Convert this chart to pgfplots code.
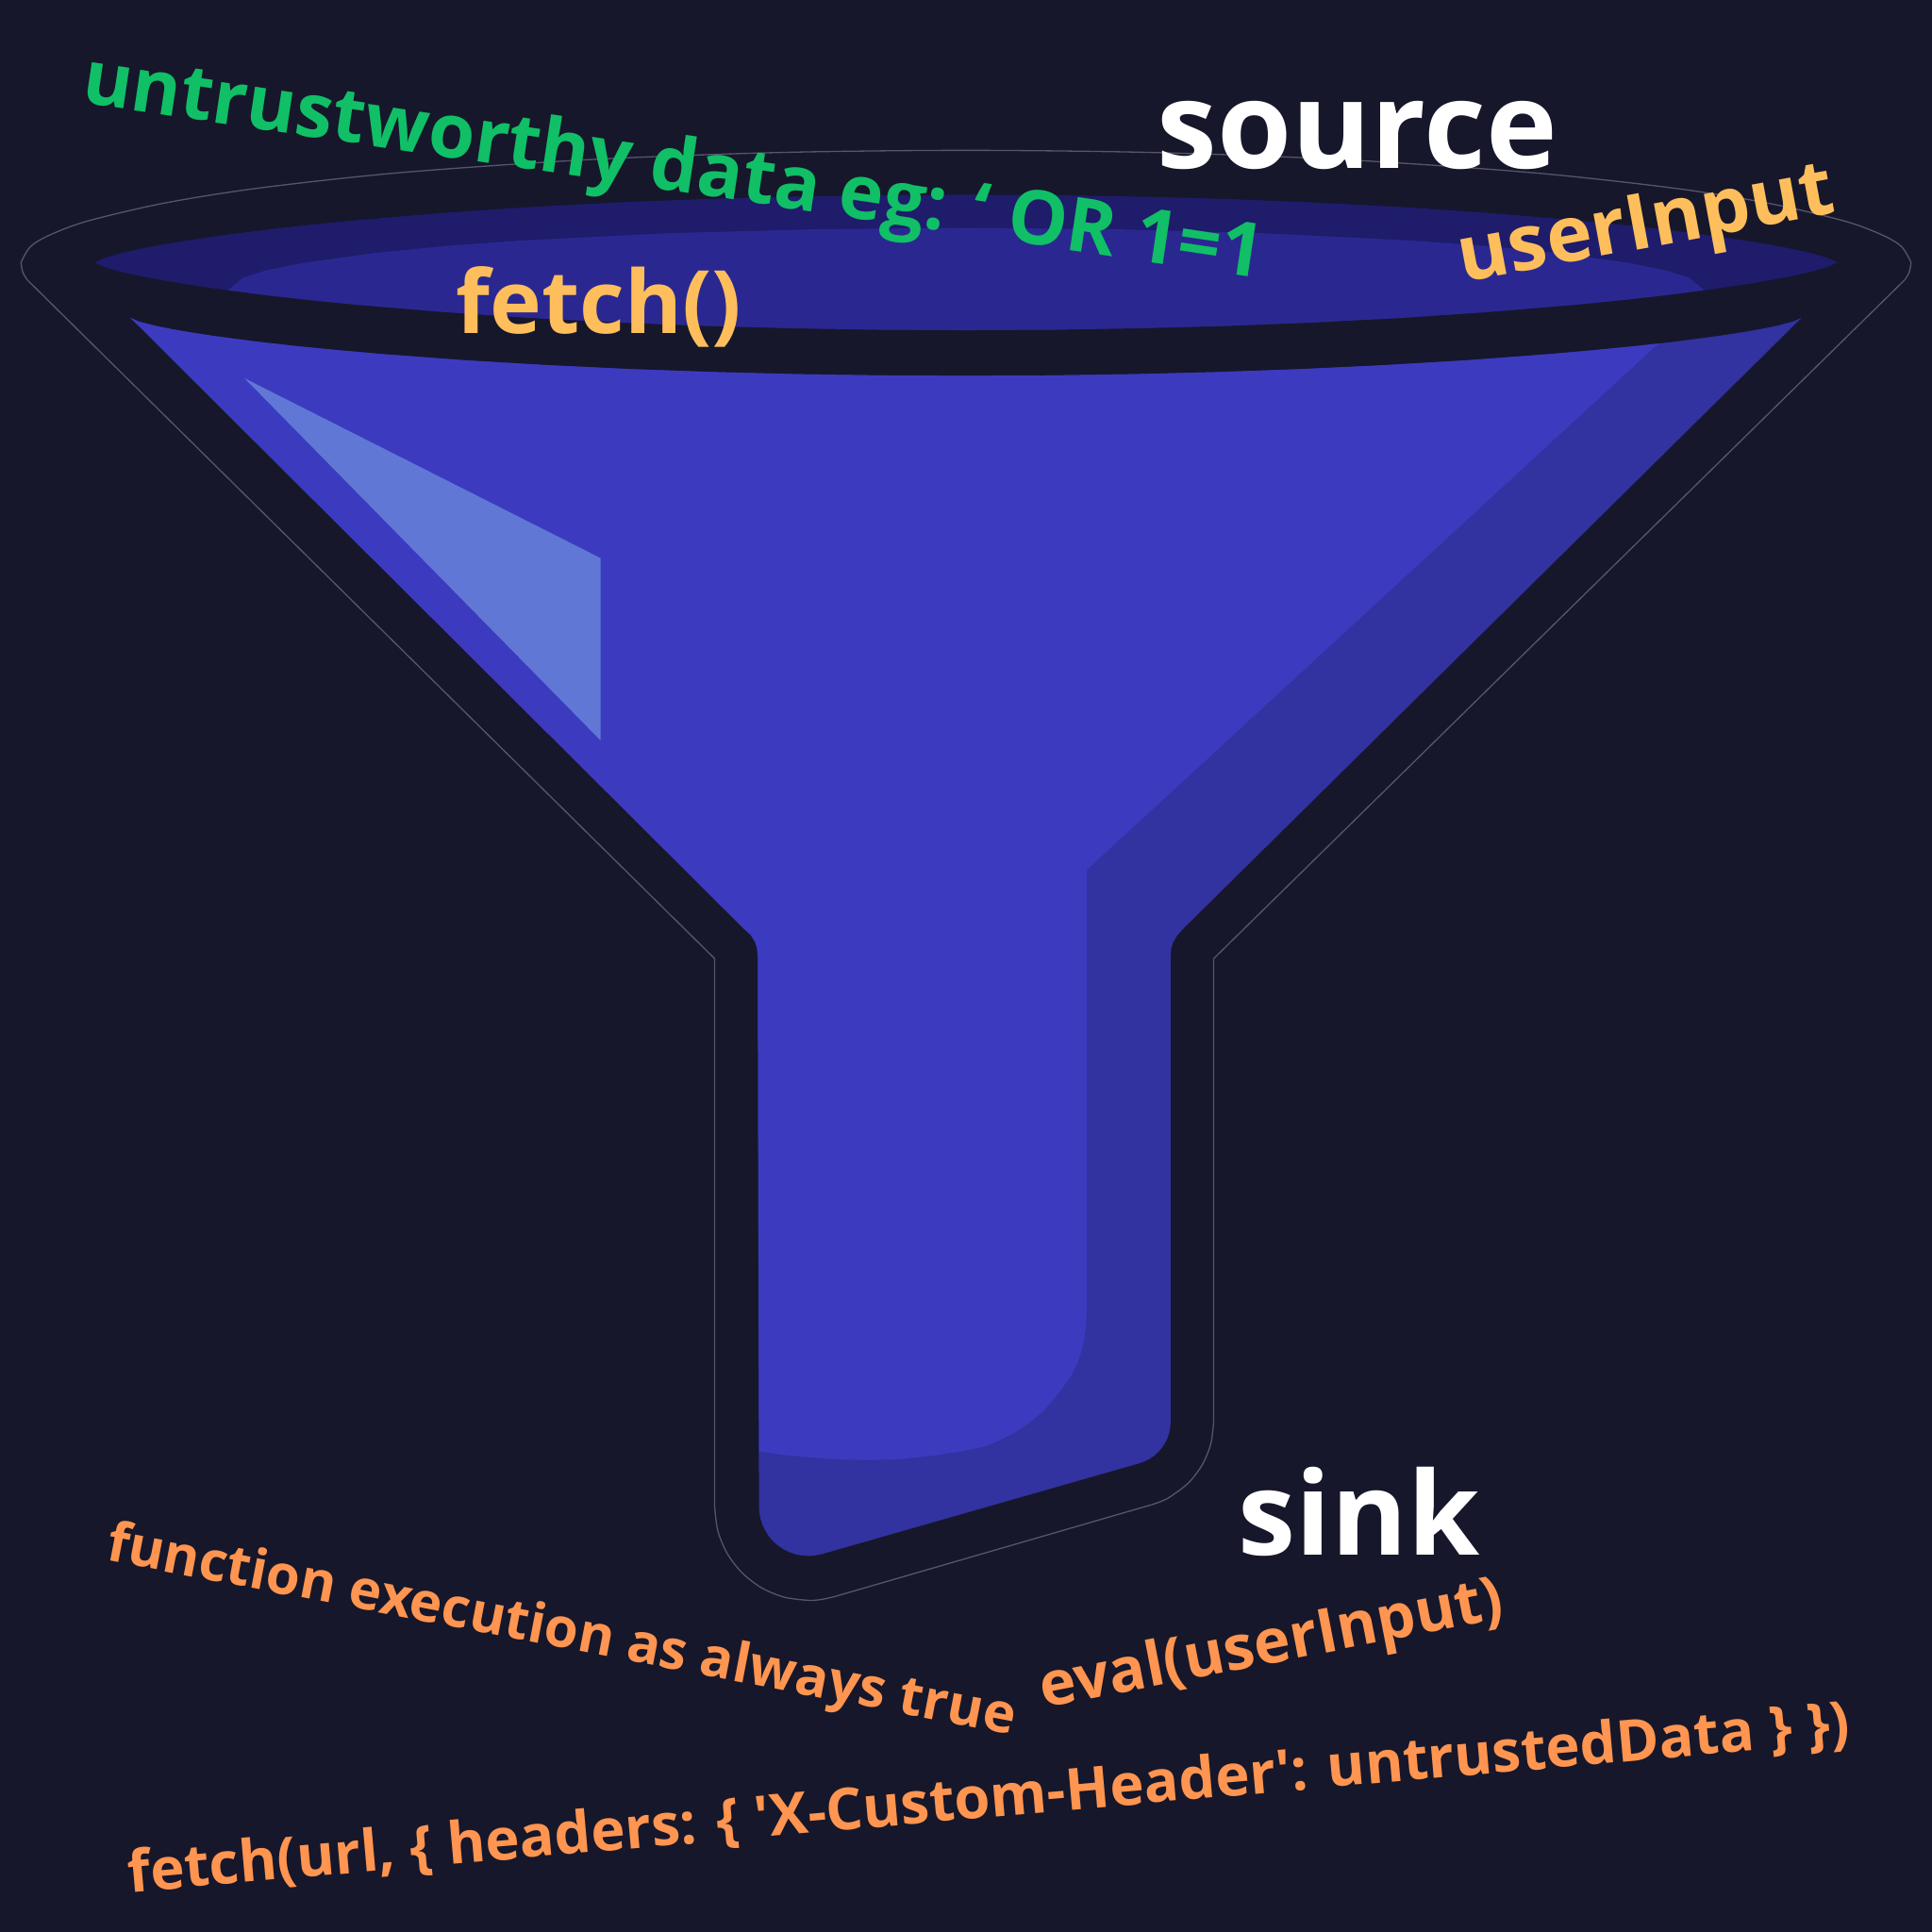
\documentclass[border=0pt]{standalone}
\usepackage{pgfplots}
\pgfplotsset{compat=1.18}
\usepackage{fontspec}
\setmainfont{Open Sans}
\definecolor{bg}{HTML}{16172B}
\definecolor{navy}{HTML}{1E1C6B}
\definecolor{inner}{HTML}{2A2890}
\definecolor{body}{HTML}{3C3BBF}
\definecolor{shade}{HTML}{3232A0}
\definecolor{hilite}{HTML}{6077D6}
\definecolor{edge}{HTML}{56566A}
\definecolor{tgreen}{HTML}{10BF66}
\definecolor{tyellow}{HTML}{FFBE5C}
\definecolor{torange}{HTML}{FF9550}
\begin{document}
\begin{tikzpicture}
\begin{axis}[width=1568pt,height=1568pt,scale only axis,
  xmin=0,xmax=1568,ymin=0,ymax=1568,y dir=reverse,hide axis]
% background
\addplot[draw=none,fill=bg] coordinates {(0,0)(1568,0)(1568,1568)(0,1568)} -- cycle;
% outer thin outline: top ellipse arc
\addplot[edge,line width=1pt,smooth] coordinates {
(17,213)(24.7,200.2)(40,190.9)(70.7,179.5)(132,165.1)(208.8,152.8)(323.8,140.2)(477.2,129.6)(630.6,123.8)(784,122)
(937.4,123.8)(1090.8,129.6)(1244.2,140.2)(1359.3,152.8)(1436,165.1)(1497.3,179.5)(1528,190.9)(1543.3,200.2)(1551,213)};
% outer thin outline: left side
\addplot[edge,line width=1pt,smooth] coordinates {(17,213)(18.5,221)(22,227)};
\addplot[edge,line width=1pt] coordinates {(22,227)(580,778)(580,1222.8)};
% outer thin outline: rounded bottom
\addplot[edge,line width=1pt,smooth] coordinates {
(580,1222.8)(582.6,1242.5)(590.2,1260.8)(602.3,1276.5)(618,1288.6)(636.3,1296.2)(656,1298.8)(666.6,1298.1)(676.9,1295.9)};
\addplot[edge,line width=1pt] coordinates {(676.9,1295.9)(934.3,1221.3)};
\addplot[edge,line width=1pt,smooth] coordinates {
(934.3,1221.3)(942.4,1218.5)(950,1214.6)(964.5,1203.5)(975.6,1189)(982.6,1172.1)(985,1154)};
% outer thin outline: right side
\addplot[edge,line width=1pt] coordinates {(985,1154)(985,778)(1546,227)};
\addplot[edge,line width=1pt,smooth] coordinates {(1546,227)(1549.5,221)(1551,213)};
% navy rim lens
\addplot[draw=none,fill=navy] coordinates {
(77,213)(84.1,209.5)(98.2,205.4)(112.4,202.2)(126.5,199.5)(147.7,195.8)(183.1,190.6)(218.4,186.1)(253.8,182.2)(289.1,178.7)
(359.8,172.8)(430.5,168.0)(501.2,164.3)(571.9,161.5)(642.6,159.6)(713.3,158.4)(784,158)
(854.7,158.4)(925.4,159.6)(996.1,161.5)(1066.8,164.3)(1137.5,168.0)(1208.2,172.8)(1278.9,178.7)(1314.3,182.2)(1349.6,186.1)
(1385.0,190.6)(1420.3,195.8)(1441.5,199.5)(1455.7,202.2)(1469.8,205.4)(1483.9,209.5)(1491,213)
(1483.9,216.5)(1469.8,220.6)(1455.7,223.8)(1441.5,226.5)(1420.3,230.2)(1385.0,235.4)(1349.6,239.9)(1314.3,243.8)(1278.9,247.3)
(1208.2,253.2)(1137.5,258.0)(1066.8,261.7)(996.1,264.5)(925.4,266.4)(854.7,267.6)(784,268)
(713.3,267.6)(642.6,266.4)(571.9,264.5)(501.2,261.7)(430.5,258.0)(359.8,253.2)(289.1,247.3)(253.8,243.8)(218.4,239.9)
(183.1,235.4)(147.7,230.2)(126.5,226.5)(112.4,223.8)(98.2,220.6)(84.1,216.5)} -- cycle;
% inner lighter ellipse
\addplot[draw=none,fill=inner] coordinates {
(185,235.5)(197.0,225.5)(214.9,219.7)(244.9,213.5)(304.8,205.2)(364.7,199.4)(424.6,195.1)(544.4,189.2)(664.2,186.0)(784,185)
(903.8,186.0)(1023.6,189.2)(1143.4,195.1)(1203.3,199.4)(1263.2,205.2)(1323.1,213.5)(1353.1,219.7)(1371.0,225.5)(1383,235.5)
(1349.6,239.9)(1314.3,243.8)(1278.9,247.3)(1208.2,253.2)(1137.5,258.0)(1066.8,261.7)(996.1,264.5)(925.4,266.4)(854.7,267.6)(784,268)
(713.3,267.6)(642.6,266.4)(571.9,264.5)(501.2,261.7)(430.5,258.0)(359.8,253.2)(289.1,247.3)(253.8,243.8)(218.4,239.9)} -- cycle;
% funnel body (shade colour)
\addplot[draw=none,fill=shade] coordinates {
(106,258)(112.8,261.0)(126.3,264.5)(139.9,267.2)(153.5,269.6)(173.8,272.7)(207.7,277.2)(241.6,281.0)(275.5,284.3)(309.4,287.3)
(377.2,292.4)(445,296.4)(512.8,299.6)(580.6,302.0)(648.4,303.7)(716.2,304.7)(784,305)
(851.8,304.7)(919.6,303.7)(987.4,302.0)(1055.2,299.6)(1123,296.4)(1190.8,292.4)(1258.6,287.3)(1292.5,284.3)(1326.4,281.0)
(1360.3,277.2)(1394.2,272.7)(1414.5,269.6)(1428.1,267.2)(1441.7,264.5)(1455.2,261.0)(1462,258)
(961,753)(955.5,759)(952,765)(950.5,770)(950,777)
(950,1154)(949.7,1158.6)(948.8,1163.1)(947.4,1167.4)(945.3,1171.5)(942.8,1175.3)(939.7,1178.7)(936.3,1181.8)(932.5,1184.3)(928.6,1186.2)(924.6,1187.6)
(667,1261.3)(661.6,1262.4)(656,1262.8)(650.7,1262.4)(645.6,1261.4)(640.6,1259.7)(636,1257.4)(631.6,1254.5)(627.7,1251.1)(624.3,1247.2)(621.4,1242.8)(619.1,1238.1)(617.4,1233.2)(616.3,1228.0)(616,1222.8)
(615,777)(614.5,770)(613,765)(609.5,759)(603,753)} -- cycle;
% funnel body (main bright colour)
\addplot[draw=none,fill=body] coordinates {
(106,258)(112.8,261.0)(126.3,264.5)(139.9,267.2)(153.5,269.6)(173.8,272.7)(207.7,277.2)(241.6,281.0)(275.5,284.3)(309.4,287.3)
(377.2,292.4)(445,296.4)(512.8,299.6)(580.6,302.0)(648.4,303.7)(716.2,304.7)(784,305)
(851.8,304.7)(919.6,303.7)(987.4,302.0)(1055.2,299.6)(1123,296.4)(1190.8,292.4)(1258.6,287.3)(1292.5,284.3)(1326.4,281.0)
(1346,278.8)(882,706)(882,1065)(881.5,1076)(880,1087)(877.5,1097)(874,1107)(869,1117)(862,1127)(855,1136)(846,1146)(835,1155)(823,1163)(811,1169)(799,1174)
(780,1178)(760,1181)(733,1184)(707,1185)(683,1184.5)(660,1183)(637,1181)(616,1178)
(615,777)(614.5,770)(613,765)(609.5,759)(603,753)} -- cycle;
% highlight
\addplot[draw=none,fill=hilite] coordinates {(198.5,307)(487.5,453)(487.5,601)} -- cycle;
% texts
\node[anchor=base west,inner sep=0,rotate=-8.5,text=tgreen,font=\bfseries\fontsize{61}{61}\selectfont]
  at (axis cs:65,83) {untrustworthy data eg: ‘ OR 1=1};
\node[anchor=base west,inner sep=0,text=white,font=\bfseries\fontsize{98}{98}\selectfont]
  at (axis cs:939,136.5) {source};
\node[anchor=base west,inner sep=0,rotate=10.5,text=tyellow,font=\bfseries\fontsize{63}{63}\selectfont]
  at (axis cs:1187,229) {userInput};
\node[anchor=base west,inner sep=0,text=tyellow,font=\bfseries\fontsize{71}{71}\selectfont]
  at (axis cs:370,271) {fetch()};
\node[anchor=base west,inner sep=0,text=white,font=\bfseries\fontsize{94}{94}\selectfont]
  at (axis cs:1005,1262) {sink};
\node[anchor=base west,inner sep=0,rotate=-10.9,text=torange,font=\bfseries\fontsize{44.5}{44.5}\selectfont]
  at (axis cs:85,1266) {function execution as always true};
\node[anchor=base west,inner sep=0,rotate=11,text=torange,font=\bfseries\fontsize{50}{50}\selectfont]
  at (axis cs:847,1386) {eval(userInput)};
\node[anchor=base west,inner sep=0,rotate=5,text=torange,font=\bfseries\fontsize{47}{47}\selectfont]
  at (axis cs:105,1536) {fetch(url, \{ headers: \{ \textquotesingle X-Custom-Header\textquotesingle: untrustedData \} \})};
\end{axis}
\end{tikzpicture}
\end{document}
